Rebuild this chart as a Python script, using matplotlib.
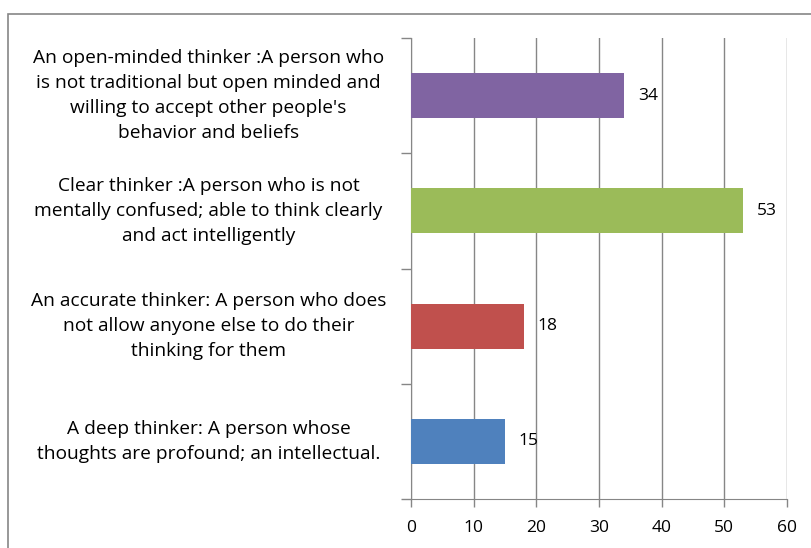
import matplotlib.pyplot as plt
from matplotlib.patches import Rectangle

labels = [
    "A deep thinker: A person whose\nthoughts are profound; an intellectual.",
    "An accurate thinker: A person who does\nnot allow anyone else to do their\nthinking for them",
    "Clear thinker :A person who is not\nmentally confused; able to think clearly\nand act intelligently",
    "An open-minded thinker :A person who\nis not traditional but open minded and\nwilling to accept other people's\nbehavior and beliefs",
]
values = [15, 18, 53, 34]
colors = ["#4F81BD", "#C0504D", "#9BBB59", "#8064A2"]
xticks = [0, 10, 20, 30, 40, 50, 60]

plt.rcParams['font.family'] = ['Open Sans', 'DejaVu Sans']
grey = "#868686"

fig = plt.figure(figsize=(8.11, 5.48), dpi=100)
ax = fig.add_axes([411/811, 1-499/548, (787-411)/811, (499-38)/548])

pos = range(len(values))
ax.barh(pos, values, height=0.39, color=colors, zorder=3)
for y, v in zip(pos, values):
    ax.text(v + 2.2, y, str(v), va='center', ha='left', fontsize=12.5, zorder=4)

ax.set_xlim(0, 60)
ax.set_ylim(-0.5, 3.5)
ax.set_xticks(xticks)
ax.set_xticklabels([str(t) for t in xticks], fontsize=12.5)
ax.grid(axis='x', color=grey, linewidth=1, zorder=0)
ax.set_yticks([-0.5, 0.5, 1.5, 2.5, 3.5])
ax.set_yticklabels([])
ax.tick_params(axis='y', length=7, color=grey, width=1)
ax.tick_params(axis='x', length=6, color=grey, width=1, pad=9)
for s in ['top', 'right']:
    ax.spines[s].set_visible(False)
for s in ['left', 'bottom']:
    ax.spines[s].set_color(grey)

# category labels, centred to the left of the axis
for y, lab in zip(pos, labels):
    ax.text(-32.3, y, lab, ha='center', va='center', fontsize=13.8,
            linespacing=1.5, transform=ax.transData)

# chart border
fig.add_artist(Rectangle((8/811, -0.1), 1.1, 1 - 14/548 + 0.1,
                         transform=fig.transFigure, fill=False,
                         edgecolor=grey, linewidth=1.2))

fig.savefig("out.png", dpi=100)
